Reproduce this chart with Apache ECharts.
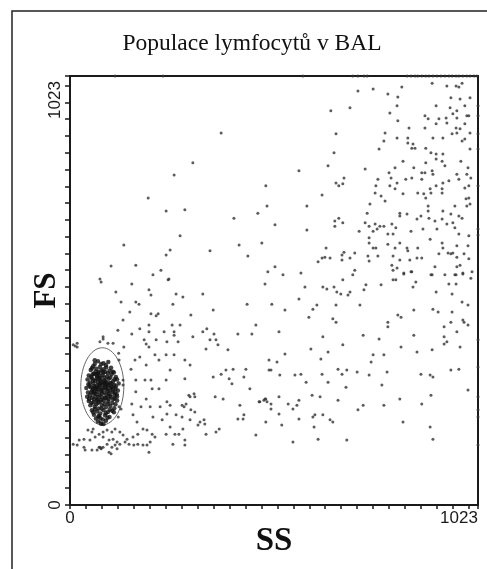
<!DOCTYPE html>
<html>
<head>
<meta charset="utf-8">
<title>Populace lymfocytů v BAL</title>
<script src="https://cdn.jsdelivr.net/npm/echarts@6/dist/echarts.min.js"></script>
<style>
  html, body { margin: 0; padding: 0; background: #fff; }
  #chart { width: 487px; height: 569px; }
</style>
</head>
<body>
<div id="chart"></div>
<script>
// channel range and the only labelled ticks
const axisMax = 1023;
const edgeLabels = [0, 1023];

// lymphocyte gate: [SS centre, FS centre, SS radius, FS radius]
const gate = [81, 283, 54, 92];

// dense lymphocyte cloud [SS, FS]
const lymphocytes = [
  [70,343],[84,338],[96,341],[62,336],
  [58,331],[75,329],[90,333],[103,327],[66,325],
  [52,322],[64,318],[79,321],[88,317],[99,320],[110,316],[71,314],
  [47,309],[57,312],[68,307],[82,310],[93,306],[104,311],[115,305],[76,303],
  [44,299],[55,302],[63,296],[72,300],[86,297],[97,301],[108,295],[118,299],[80,293],[50,292],
  [46,288],[58,290],[67,285],[75,289],[89,287],[100,291],[111,286],[122,290],[61,283],[94,282],
  [41,279],[52,281],[65,277],[73,281],[83,278],[92,276],[103,280],[114,277],[120,273],[56,273],[78,271],
  [45,268],[59,266],[68,270],[86,268],[97,265],[107,269],[117,264],[50,262],[74,263],
  [43,258],[55,256],[64,259],[80,257],[91,255],[102,258],[112,254],[70,251],[85,249],
  [47,248],[59,245],[76,246],[96,247],[106,243],[118,249],[66,240],
  [51,238],[62,234],[80,237],[90,233],[101,236],[72,230],[111,231],
  [55,226],[68,223],[84,226],[95,222],[106,225],[76,218],
  [60,215],[73,212],[88,214],[99,210],[65,206],[82,204],
  [70,199],[90,201],[78,194],
  [62,345],[78,336],[91,328],[55,326],[84,324],[72,318],[60,313],[95,314],[107,318],[86,304],
  [74,308],[53,306],[101,304],[112,300],[67,302],[89,295],[77,297],[58,297],[104,290],[70,292],
  [82,286],[49,284],[115,283],[96,287],[63,280],[88,280],[108,276],[70,276],[58,277],[95,272],
  [79,275],[112,268],[64,265],[91,263],[53,269],[80,265],[100,261],[71,258],[118,259],[48,253],
  [60,252],[88,256],[108,252],[79,251],[95,241],[71,244],[54,243],[86,241],[114,240],[63,229],
  [79,230],[100,227],[90,219],[71,211],[58,221],[110,221],[94,208],[84,193],[76,207],[92,291],
  [66,312],[83,316],[101,273],[60,270],[74,285],[86,290],[104,282],[67,250],[97,253],[112,262]
];

// debris under and around the gate [SS, FS]
const debris = [
  [45,179],[55,174],[58,181],[73,169],[83,174],[93,179],[105,174],[113,181],[125,174],[133,167],
  [35,157],[50,155],[63,162],[83,162],[98,155],[108,157],[118,150],[125,145],[138,150],[143,157],
  [148,145],[8,145],[18,143],[35,138],[38,131],[55,131],[68,131],[73,138],[78,134],[83,138],
  [93,145],[105,138],[113,143],[118,134],[98,126],[23,155],[75,198],[80,193],[75,138],[78,136],
  [135,377],[123,346],[133,298],[133,286],[123,234],[122,362],[121,210],
  [75,389],[95,386],[108,386],[83,401],[8,382],[18,386],[18,377],[13,379]
];

// scattered events [SS, FS]
const cells = [
  [379,887],[308,816],[261,787],[196,732],[241,701],[288,704],[411,684],[471,696],[491,761],[494,713],
  [276,642],[135,620],[251,608],[241,596],[351,606],[424,620],[481,625],[446,594],[103,570],[165,572],
  [228,560],[208,549],[496,556],[248,539],[75,539],
  [722,987],[760,992],[797,980],[822,973],[832,997],[908,1006],[945,999],[968,999],[975,997],[983,1006],
  [955,971],[978,968],[1003,971],[918,952],[953,947],[970,940],[990,952],[654,940],[702,947],[802,935],
  [820,952],[890,928],[898,921],[925,921],[943,923],[960,933],[970,923],[995,928],[1000,928],[822,916],
  [850,899],[890,899],[918,909],[945,911],[968,899],[978,897],[990,909],[1003,887],[667,885],[790,887],
  [787,868],[820,875],[847,875],[847,863],[860,861],[857,851],[865,851],[892,851],[910,875],[935,875],
  [958,885],[970,887],[983,868],[990,873],[1003,849],[662,840],[775,849],[905,840],[918,837],[935,837],
  [918,825],[933,820],[980,820],[835,820],[892,816],[940,809],[998,804],[574,797],[647,809],[740,801],
  [815,804],[800,792],[862,804],[882,792],[890,792],[908,797],[910,789],[970,789],[995,789],[1005,780],
  [632,739],[667,768],[674,761],[684,766],[687,780],[772,777],[767,761],[805,780],[802,761],[815,754],
  [820,768],[842,777],[857,780],[882,777],[887,742],[892,732],[903,754],[918,761],[935,768],[933,754],
  [950,773],[975,777],[990,756],[1000,761],[765,744],[780,737],[835,742],[872,744],[905,744],[933,744],
  [993,730],[1000,732],[594,713],[752,718],[790,725],[898,713],[898,701],[965,713],[995,713],[1003,718],
  [745,696],[827,696],[827,689],[845,694],[935,701],[955,694],[975,689],[674,684],[664,677],[664,665],
  [740,673],[750,665],[765,670],[777,665],[787,665],[807,670],[817,661],[870,682],[880,689],[900,684],
  [915,677],[933,682],[945,670],[960,673],[983,684],[514,668],[594,656],[684,673],[725,653],[760,653],
  [770,658],[797,646],[810,646],[855,653],[885,658],[920,658],[975,646],[1000,642],[965,661],[750,637],
  [750,625],[760,613],[767,613],[797,622],[815,613],[827,625],[845,613],[847,606],[872,613],[903,634],
  [933,625],[935,613],[970,618],[998,618],[642,613],[622,580],[632,589],[639,591],[652,589],[682,596],
  [682,584],[687,603],[702,589],[714,601],[747,594],[750,582],[772,594],[810,594],[827,584],[852,584],
  [870,589],[882,589],[925,599],[948,601],[955,599],[960,601],[970,591],[988,599],[1000,587],[514,568],
  [534,549],[579,553],[714,560],[709,549],[807,572],[810,560],[820,565],[837,553],[857,556],[908,549],
  [915,568],[940,549],[965,549],[970,568],[978,572],[985,553],[1008,556],[1005,541],
  [78,532],[155,527],[246,537],[115,508],[198,513],[203,501],[128,484],[165,484],[173,479],[266,503],
  [283,496],[333,503],[258,479],[150,460],[203,456],[216,451],[221,456],[303,453],[359,465],[444,479],
  [489,527],[133,441],[120,417],[155,408],[175,420],[198,429],[198,413],[236,413],[256,429],[261,413],
  [261,405],[276,429],[308,401],[333,413],[343,420],[361,408],[421,408],[456,408],[466,429],[83,396],
  [186,394],[191,384],[198,377],[216,394],[243,389],[271,389],[341,372],[351,394],[366,394],[371,382],
  [396,370],[175,353],[163,346],[213,358],[223,346],[241,358],[261,358],[288,346],[301,334],[191,334],
  [153,324],[251,322],[288,301],[359,305],[379,312],[391,322],[399,301],[406,289],[409,324],[436,305],
  [441,324],[451,277],[499,346],[499,322],[165,298],[188,298],[203,298],[241,298],[165,270],[206,277],
  [223,277],[298,262],[301,258],[311,265],[313,258],[191,253],[364,258],[384,253],[474,246],[486,250],
  [491,253],[491,198],[426,238],[128,229],[155,241],[178,234],[201,234],[226,234],[243,246],[251,238],
  [281,238],[286,234],[291,241],[303,227],[313,222],[243,217],[266,215],[281,210],[301,203],[321,191],
  [326,198],[336,203],[338,193],[421,205],[434,205],[436,215],[158,215],[168,198],[208,210],[231,203],
  [251,186],[263,169],[273,169],[283,181],[288,155],[341,169],[366,174],[374,181],[466,167],[241,169],
  [183,181],[193,179],[170,169],[158,162],[206,169],[213,162],[201,150],[183,143],[193,143],[170,145],
  [160,143],[258,145],[288,143],[198,126],[103,122],
  [684,537],[810,537],[817,537],[837,551],[855,556],[867,532],[860,520],[905,549],[968,549],[985,551],
  [950,527],[968,527],[589,520],[634,520],[644,515],[662,520],[669,508],[679,503],[702,508],[697,501],
  [742,525],[737,513],[780,525],[918,508],[958,503],[574,491],[506,479],[539,465],[609,467],[619,477],
  [667,477],[727,477],[862,465],[910,467],[923,460],[958,460],[983,484],[998,477],[599,448],[659,444],
  [667,436],[822,453],[830,448],[797,436],[797,425],[955,436],[985,441],[988,436],[998,429],[938,425],
  [524,413],[634,401],[735,405],[775,396],[862,405],[970,413],[938,401],[945,389],[938,384],[604,372],
  [684,382],[830,377],[870,365],[908,370],[978,377],[539,360],[647,365],[519,341],[629,348],[760,358],
  [787,358],[755,341],[504,322],[526,310],[564,310],[579,312],[632,312],[672,324],[694,322],[682,312],
  [720,317],[750,310],[795,317],[880,312],[903,310],[910,305],[955,322],[975,324],[592,293],[647,293],
  [782,286],[692,281],[998,274],[489,253],[494,246],[476,246],[504,241],[524,258],[504,229],[547,241],
  [559,229],[569,238],[574,250],[607,262],[627,258],[672,250],[735,238],[722,227],[787,238],[827,253],
  [882,241],[905,262],[524,217],[531,191],[574,205],[609,210],[614,215],[634,215],[652,203],[659,198],
  [612,186],[835,198],[903,186],[559,150],[622,157],[694,155],[910,157]
];

// events piled up on the top (FS = 1023) and right (SS = 1023) edges
const topEdge = [
  [113,1023],[233,1023],[584,1023],[709,1023],[722,1023],[737,1023],[745,1023],[845,1023],[855,1023],
  [865,1023],[872,1023],[882,1023],[892,1023],[900,1023],[910,1023],[920,1023],[930,1023],[940,1023],
  [950,1023],[958,1023],[968,1023],[975,1023],[985,1023],[995,1023],[1003,1023],[1013,1023],[1020,1023]
];
const rightEdge = [
  [1023,952],[1023,928],[1023,885],[1023,849],[1023,761],[1023,658],[1023,644],[1023,394],
  [1023,329],[1023,258],[1023,227],[1023,210],[1023,143]
];

const ink = '#1a1a1a';
const chart = echarts.init(document.getElementById('chart'), null, { renderer: 'canvas' });

const tickLabel = (v) => {
  if (!edgeLabels.includes(v)) return '';
  return v === axisMax ? '{end|' + v + '}' : String(v);
};

const option = {
  animation: false,
  backgroundColor: '#fff',
  title: {
    text: 'Populace lymfocytů v BAL',
    left: 247,
    top: 27,
    textAlign: 'center',
    textStyle: {
      fontFamily: 'Liberation Serif',
      fontWeight: 'normal',
      fontSize: 23.5,
      color: '#111'
    }
  },
  graphic: [
    {
      type: 'rect',
      shape: { x: 12, y: 11, width: 490, height: 590 },
      style: { fill: 'none', stroke: '#222', lineWidth: 1.5 },
      silent: true
    }
  ],
  grid: {
    left: 70,
    right: 9,
    top: 76,
    bottom: 64,
    show: true,
    borderColor: ink,
    borderWidth: 2,
    containLabel: false
  },
  xAxis: {
    type: 'value',
    min: 0,
    max: axisMax,
    interval: 40,
    name: 'SS',
    nameLocation: 'middle',
    nameGap: 20,
    nameMoveOverlap: false,
    nameTextStyle: {
      fontFamily: 'Liberation Serif',
      fontWeight: 'bold',
      fontSize: 33,
      color: '#111'
    },
    axisLine: { show: true, onZero: false, lineStyle: { color: ink, width: 2 } },
    axisTick: { show: true, length: 4, lineStyle: { color: ink, width: 1.5 } },
    axisLabel: {
      margin: 5,
      showMinLabel: true,
      showMaxLabel: true,
      fontFamily: 'Liberation Sans',
      fontSize: 17,
      color: ink,
      formatter: tickLabel,
      rich: {
        end: { fontFamily: 'Liberation Sans', fontSize: 17, color: ink, padding: [0, 38, 0, 0] }
      }
    },
    splitLine: { show: false }
  },
  yAxis: {
    type: 'value',
    min: 0,
    max: axisMax,
    interval: 40,
    name: 'FS',
    nameLocation: 'middle',
    nameRotate: 90,
    nameGap: 8,
    nameMoveOverlap: false,
    nameTextStyle: {
      fontFamily: 'Liberation Serif',
      fontWeight: 'bold',
      fontSize: 31,
      color: '#111'
    },
    axisLine: { show: true, onZero: false, lineStyle: { color: ink, width: 2 } },
    axisTick: { show: true, length: 5, lineStyle: { color: ink, width: 1.5 } },
    axisLabel: {
      rotate: 90,
      margin: 6,
      showMinLabel: true,
      showMaxLabel: true,
      fontFamily: 'Liberation Sans',
      fontSize: 17,
      color: ink,
      formatter: tickLabel,
      rich: {
        end: { fontFamily: 'Liberation Sans', fontSize: 17, color: ink, padding: [0, 48, 0, 0] }
      }
    },
    splitLine: { show: false }
  },
  series: [
    {
      name: 'events',
      type: 'scatter',
      symbol: 'circle',
      symbolSize: 3,
      clip: false,
      silent: true,
      itemStyle: { color: '#333' },
      data: [...cells, ...debris, ...topEdge, ...rightEdge]
    },
    {
      name: 'lymphocytes',
      type: 'scatter',
      symbol: 'circle',
      symbolSize: 4.5,
      silent: true,
      itemStyle: { color: '#111' },
      data: lymphocytes
    },
    {
      name: 'gate',
      type: 'custom',
      silent: true,
      clip: false,
      encode: { x: 0, y: 1 },
      data: [gate],
      renderItem: function (params, api) {
        const c = api.coord([api.value(0), api.value(1)]);
        const s = api.size([api.value(2), api.value(3)]);
        return {
          type: 'ellipse',
          shape: { cx: c[0], cy: c[1], rx: s[0], ry: s[1] },
          style: { fill: 'none', stroke: '#666', lineWidth: 1 }
        };
      }
    }
  ]
};

chart.setOption(option);
</script>
</body>
</html>
